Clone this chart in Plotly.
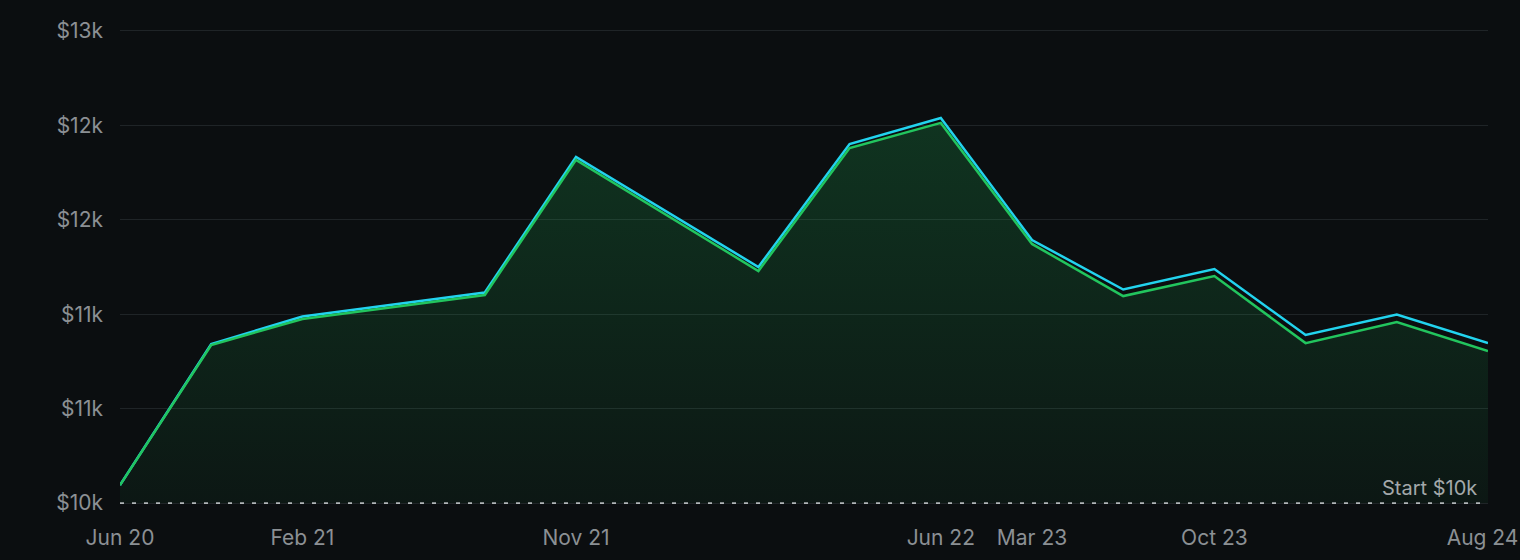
import plotly.graph_objects as go

# Data
x_pos = [0, 1, 2, 4, 5, 7, 8, 9, 10, 11, 12, 13, 14, 15]
green_vals = [10095, 10837, 10975, 11102, 11817, 11229, 11880, 12013,
              11372, 11096, 11202, 10847, 10959, 10805]
cyan_vals = [10095, 10842, 10988, 11115, 11833, 11250, 11901, 12039,
             11393, 11131, 11239, 10890, 10998, 10847]
tick_pos = [0, 2, 5, 9, 10, 12, 14.94]
tick_labels = ["Jun 20", "Feb 21", "Nov 21", "Jun 22", "Mar 23", "Oct 23", "Aug 24"]
y_ticks = [10000, 10500, 11000, 11500, 12000, 12500]
y_labels = ["$10k", "$11k", "$11k", "$12k", "$12k", "$13k"]
start_value = 10000

BG = "#0b0e10"
GREEN = "#22c55e"
CYAN = "#22d3ee"
TXT = "#8b9094"
FONT = "Inter, sans-serif"

fig = go.Figure()

# baseline for fill
fig.add_trace(go.Scatter(x=x_pos, y=[start_value] * len(x_pos), mode="lines",
                         line=dict(width=0, color="rgba(0,0,0,0)"),
                         hoverinfo="skip", showlegend=False))
# green area (fill only)
fig.add_trace(go.Scatter(
    x=x_pos, y=green_vals, mode="lines", fill="tonexty",
    line=dict(width=0, color="rgba(0,0,0,0)"),
    fillgradient=dict(type="vertical", start=start_value, stop=12050,
                      colorscale=[[0, "rgba(34,197,94,0.05)"],
                                  [1, "rgba(34,197,94,0.21)"]]),
    hoverinfo="skip", showlegend=False))
# dashed start line
fig.add_trace(go.Scatter(x=[0, 15], y=[start_value, start_value], mode="lines",
                         line=dict(color="rgba(215,219,221,0.8)", width=1.8, dash="4px,8px"),
                         hoverinfo="skip", showlegend=False))
# cyan line
fig.add_trace(go.Scatter(x=x_pos, y=cyan_vals, mode="lines",
                         line=dict(color=CYAN, width=2.5), showlegend=False))
# green line
fig.add_trace(go.Scatter(x=x_pos, y=green_vals, mode="lines",
                         line=dict(color=GREEN, width=2.5), showlegend=False))

fig.add_annotation(x=1, xref="paper", y=start_value, yref="y",
                   text="Start $10k", showarrow=False, xanchor="right", yanchor="bottom",
                   xshift=-9, yshift=1,
                   font=dict(family=FONT, size=20, color="#a3a8aa"))

fig.update_layout(
    width=1520, height=560,
    paper_bgcolor=BG, plot_bgcolor=BG,
    margin=dict(l=120, r=32, t=29, b=55),
    font=dict(family=FONT, size=21, color=TXT),
    showlegend=False,
    xaxis=dict(range=[0, 15], tickmode="array", tickvals=tick_pos, ticktext=tick_labels,
               showgrid=False, zeroline=False, showline=False, ticks="",
               ticklabelstandoff=18, ticklabeloverflow="allow", automargin=False,
               tickfont=dict(family=FONT, size=21, color=TXT)),
    yaxis=dict(range=[9990, 12510], tickmode="array", tickvals=y_ticks, ticktext=y_labels,
               showgrid=True, gridcolor="#1f2427", gridwidth=1.2, zeroline=False,
               showline=False, ticks="", ticklabelstandoff=16, ticklabeloverflow="allow",
               automargin=False,
               tickfont=dict(family=FONT, size=21, color=TXT)),
)

fig.write_html("out.html")
